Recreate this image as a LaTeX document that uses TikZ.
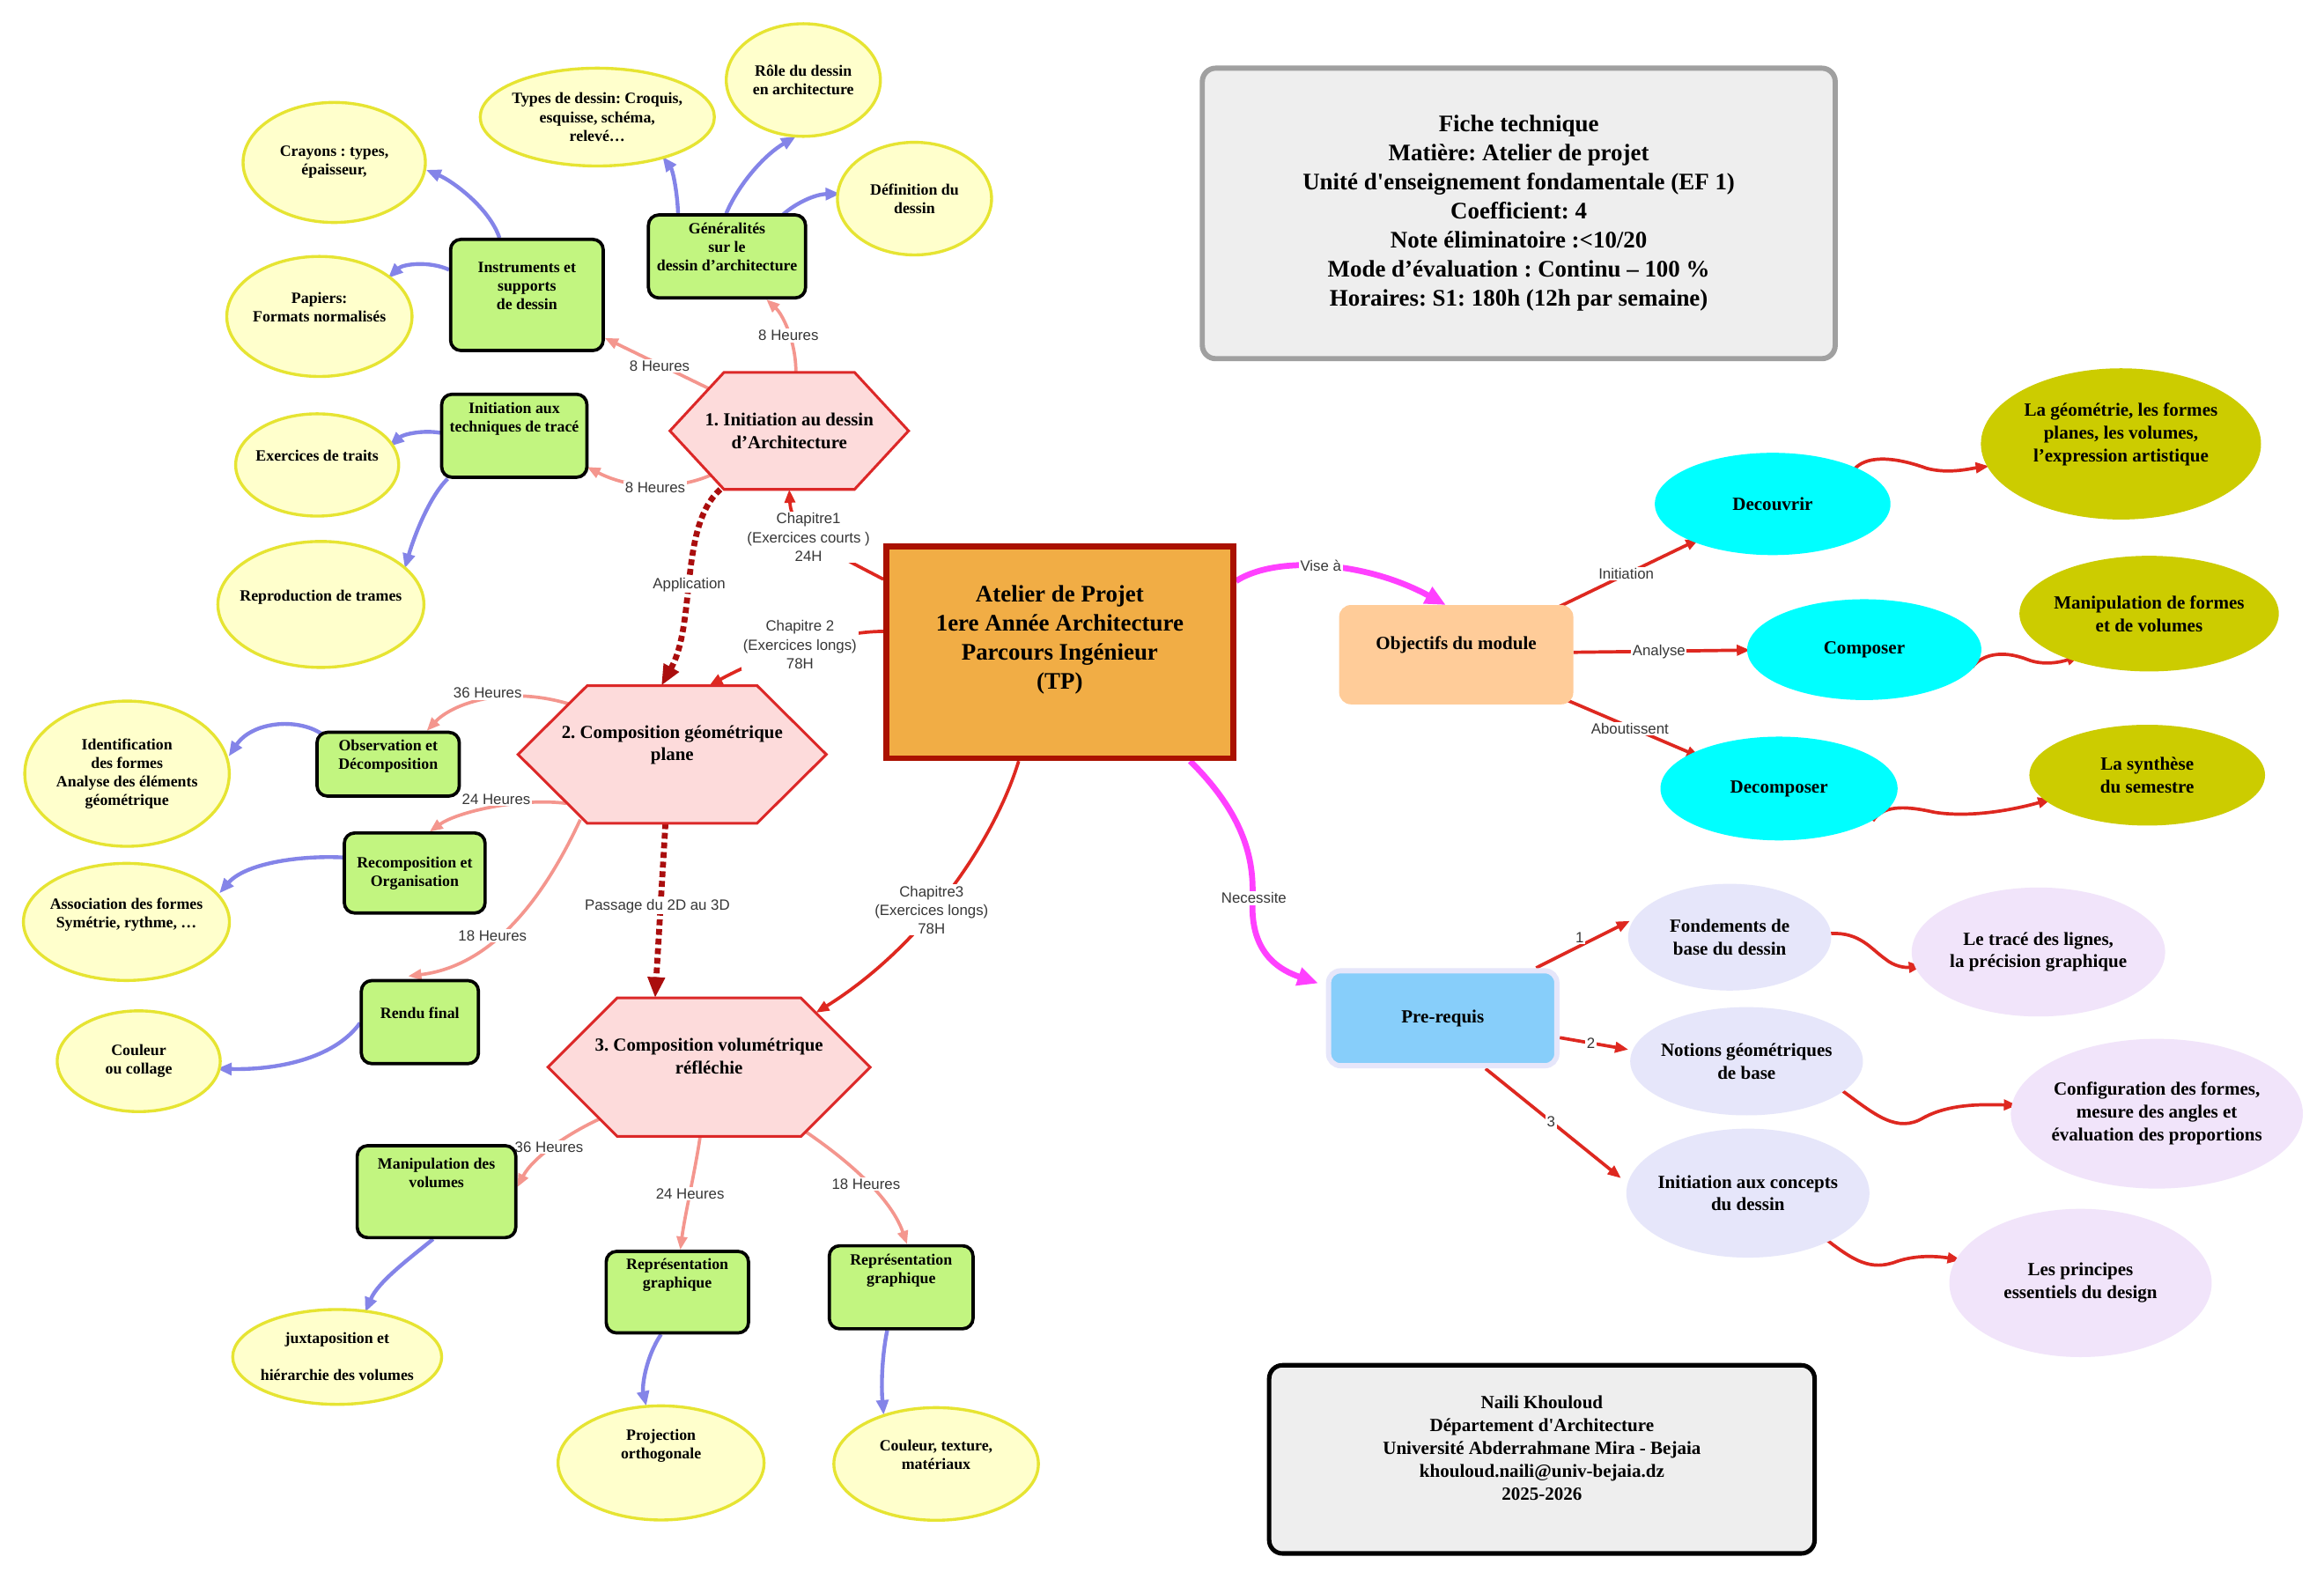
\documentclass[tikz,border=0pt]{standalone}
\usepackage{fontspec}
\setmainfont{Liberation Serif}
\newfontfamily\lsans{Liberation Sans}
\usetikzlibrary{arrows.meta,calc,shapes.geometric}
\pgfdeclarelayer{background}
\pgfsetlayers{background,main}
\frenchspacing
\definecolor{yelF}{RGB}{255,255,204}
\definecolor{yelB}{RGB}{230,228,50}
\definecolor{grnF}{RGB}{194,245,128}
\definecolor{hexF}{RGB}{253,219,219}
\definecolor{hexB}{RGB}{220,40,40}
\definecolor{ctrF}{RGB}{241,173,69}
\definecolor{ctrB}{RGB}{170,17,0}
\definecolor{objF}{RGB}{255,204,153}
\definecolor{cyanF}{RGB}{0,255,255}
\definecolor{oliveF}{RGB}{204,204,0}
\definecolor{preF}{RGB}{135,206,250}
\definecolor{preB}{RGB}{230,230,250}
\definecolor{lavF}{RGB}{230,230,250}
\definecolor{plavF}{RGB}{241,228,250}
\definecolor{ficheF}{RGB}{238,238,238}
\definecolor{ficheB}{RGB}{160,160,160}
\definecolor{pinkE}{RGB}{244,150,142}
\definecolor{blueE}{RGB}{132,132,232}
\definecolor{redE}{RGB}{222,40,32}
\definecolor{dredE}{RGB}{170,14,14}
\definecolor{magE}{RGB}{255,64,255}
\definecolor{lblC}{RGB}{55,55,55}
\newcommand\N[7]{\node[#1,minimum width=#4pt,minimum height=#5pt,label={[#6]center:{#7}}] (#2) at (#3) {};}
\newcommand\hexa[5]{\draw[hexst] (#1-#3,#2) -- (#1-#5,#2-#4) -- (#1+#5,#2-#4) -- (#1+#3,#2) -- (#1+#5,#2+#4) -- (#1-#5,#2+#4) -- cycle;}
\tikzset{
 every node/.style={inner sep=0pt, outer sep=0pt},
 yel/.style={ellipse, draw=yelB, fill=yelF, line width=2pt},
 grn/.style={rectangle, rounded corners=7pt, draw=black, fill=grnF, line width=2.2pt},
 hexbox/.style={rectangle},
 hexst/.style={draw=hexB, fill=hexF, line width=1.8pt},
 ctrbox/.style={rectangle, draw=ctrB, fill=ctrF, line width=4pt},
 objbox/.style={rectangle, rounded corners=8pt, fill=objF},
 cyanel/.style={ellipse, fill=cyanF},
 oliveel/.style={ellipse, fill=oliveF},
 prebox/.style={rectangle, rounded corners=8pt, draw=preB, fill=preF, line width=3.5pt},
 lavel/.style={ellipse, fill=lavF},
 plavel/.style={ellipse, fill=plavF},
 fichebox/.style={rectangle, rounded corners=9pt, draw=ficheB, fill=ficheF, line width=3.5pt},
 authbox/.style={rectangle, rounded corners=9pt, draw=black, fill=ficheF, line width=3pt},
 stxt/.style={font=\fontsize{10.6}{12.5}\selectfont\bfseries, align=center},
 htxt/.style={font=\fontsize{12.4}{15.2}\selectfont\bfseries, align=center},
 rtxt/.style={font=\fontsize{12.5}{15.4}\selectfont\bfseries, align=center},
 btxt/.style={font=\fontsize{16}{19.6}\selectfont\bfseries, align=center},
 lbl/.style={font=\lsans\fontsize{10}{12.6}\selectfont, text=lblC, fill=white, inner sep=1pt, align=center},
 pk/.style={draw=pinkE, line width=2.2pt, -{Triangle[length=9pt,width=7pt]}},
 bl/.style={draw=blueE, line width=2.6pt, -{Triangle[length=10pt,width=8pt]}},
 rd/.style={draw=redE, line width=2.2pt, -{Triangle[length=9pt,width=7pt]}},
 mg/.style={draw=magE, line width=4pt, -{Triangle[length=14pt,width=12pt]}},
 dsh/.style={draw=dredE, line width=4pt, dash pattern=on 4pt off 2.5pt, -{Triangle[length=14pt,width=11pt]}},
}
\begin{document}
\begin{tikzpicture}[x=1pt,y=-1pt]
\useasboundingbox (0,0) rectangle (1568,1065);
% ---------- yellow ellipses
\N{yel}{crayons}{225.5,109.6}{123}{81}{stxt}{Crayons : types,\\épaisseur,}
\N{yel}{types}{403,79}{158}{66}{stxt}{Types de dessin: Croquis,\\esquisse, schéma,\\relevé…}
\N{yel}{role}{542,54}{104}{76}{stxt}{Rôle du dessin\\en architecture}
\N{yel}{defin}{617,134}{104}{76}{stxt}{Définition du\\dessin}
\N{yel}{papiers}{215.5,213.5}{125}{81}{stxt}{Papiers:\\Formats normalisés\\\mbox{}}
\N{yel}{traits}{214,313.7}{110}{69}{stxt}{Exercices de traits\\\mbox{}}
\N{yel}{trames}{216.5,407.8}{139}{85}{stxt}{Reproduction de trames\\\mbox{}}
\N{yel}{ident}{85.7,522}{138}{98}{stxt}{Identification\\des formes\\Analyse des éléments\\géométrique}
\N{yel}{assoc}{85.3,622}{139}{79}{stxt}{Association des formes\\Symétrie, rythme, …\\\mbox{}}
\N{yel}{couleur}{93.6,716}{110}{68}{stxt}{Couleur\\ou collage}
\N{yel}{juxta}{227.5,915.5}{141}{64}{stxt}{juxtaposition et\\\mbox{}\\hiérarchie des volumes}
\N{yel}{proj}{446,987}{139}{77}{stxt}{Projection\\orthogonale\\\mbox{}\\\mbox{}}
\N{yel}{coultex}{631.6,987.7}{138}{76}{stxt}{Couleur, texture,\\matériaux\\\mbox{}}
% ---------- green boxes
\N{grn}{instr}{355.5,199}{103}{75}{stxt}{Instruments et\\supports\\de dessin\\\mbox{}}
\N{grn}{gener}{490.5,173}{106}{56}{stxt}{Généralités\\sur le\\dessin d’architecture\\\mbox{}}
\N{grn}{inittech}{347,294}{98}{56}{stxt}{Initiation aux\\techniques de tracé\\\mbox{}\\\mbox{}}
\N{grn}{obs}{261.9,515.6}{96}{43}{stxt}{Observation et\\Décomposition\\\mbox{}}
\N{grn}{recomp}{279.8,589}{95}{54}{stxt}{Recomposition et\\Organisation}
\N{grn}{rendu}{283.3,689.6}{79}{56}{stxt}{Rendu final\\\mbox{}}
\N{grn}{manip}{294.5,804}{107}{62}{stxt}{Manipulation des\\volumes\\\mbox{}\\\mbox{}}
\N{grn}{rep1}{457,871.8}{96}{55}{stxt}{Représentation\\graphique\\\mbox{}\\\mbox{}}
\N{grn}{rep2}{608,868.5}{97}{56}{stxt}{Représentation\\graphique\\\mbox{}\\\mbox{}}
% ---------- hexagons
\hexa{532.5}{290.7}{80.5}{39.5}{44}
\N{hexbox}{h1}{532.5,290.7}{161}{79}{htxt}{1. Initiation au dessin\\d’Architecture}
\hexa{453.5}{509}{104}{46.4}{57.3}
\N{hexbox}{h2}{453.5,509}{208}{93}{htxt}{2. Composition géométrique\\plane\\\mbox{}}
\hexa{478.4}{720}{108.7}{46.7}{62}
\N{hexbox}{h3}{478.4,720}{217}{93}{htxt}{3. Composition volumétrique\\réfléchie\\\mbox{}}
% ---------- central and boxes
\N{ctrbox}{ctr}{715,440}{234}{143}{btxt}{Atelier de Projet\\1ere Année Architecture\\Parcours Ingénieur\\(TP)\\\mbox{}}
\N{fichebox}{fiche}{1024.7,144}{427}{196}{btxt}{Fiche technique\\Matière: Atelier de projet\\Unité d\textquotesingle enseignement fondamentale (EF 1)\\Coefficient: 4\\Note éliminatoire :<10/20\\Mode d’évaluation : Continu – 100 \%\\Horaires: S1: 180h (12h par semaine)}
\N{authbox}{auth}{1040.3,984.6}{368}{127}{rtxt}{Naili Khouloud\\Département d\textquotesingle Architecture\\Université Abderrahmane Mira - Bejaia\\khouloud.naili@univ-bejaia.dz\\2025-2026\\\mbox{}}
% ---------- right part
\N{objbox}{obj}{982.5,441.7}{158}{67}{rtxt}{Objectifs du module\\\mbox{}}
\N{cyanel}{decouv}{1196,340}{159}{69}{rtxt}{Decouvrir}
\N{cyanel}{compo}{1257.8,438.3}{158}{68}{rtxt}{Composer}
\N{cyanel}{decomp}{1200.3,532}{160}{70}{rtxt}{Decomposer}
\N{oliveel}{geom}{1431,299.5}{189}{102}{rtxt}{La géométrie, les formes\\planes, les volumes,\\l’expression artistique\\\mbox{}}
\N{oliveel}{manipf}{1450,414}{175}{78}{rtxt}{Manipulation de formes\\et de volumes}
\N{oliveel}{synth}{1448.7,523}{159}{68}{rtxt}{La synthèse\\du semestre}
\N{prebox}{prereq}{973.4,687}{154}{64}{rtxt}{Pre-requis}
\N{lavel}{fond}{1167,632.3}{137}{72}{rtxt}{Fondements de\\base du dessin}
\N{lavel}{notions}{1178.4,716}{157}{73}{rtxt}{Notions géométriques\\de base}
\N{lavel}{initc}{1179.3,805}{164}{87}{rtxt}{Initiation aux concepts\\du dessin}
\N{plavel}{trace}{1375.3,642.3}{171}{87}{rtxt}{Le tracé des lignes,\\la précision graphique}
\N{plavel}{config}{1455.2,751.4}{197}{101}{rtxt}{Configuration des formes,\\mesure des angles et\\évaluation des proportions}
\N{plavel}{princ}{1403.7,865.6}{177}{100}{rtxt}{Les principes\\essentiels du design}
% ---------- connectors
\begin{pgfonlayer}{background}
\fill[white] (0,0) rectangle (1568,1065);
% pink
\draw[pk] ($(h1)+(-54.5,-28.7)$) -- ($(instr)+(52.5,29)$);
\draw[pk] ($(h1)+(4.5,-39.5)$) .. controls (537,230) and (528,212) .. ($(gener)+(26.5,29)$);
\draw[pk] ($(h1)+(-53,29.9)$) .. controls (455,331) and (425,330) .. ($(inittech)+(49,21)$);
\draw[pk] ($(h2)+(-70,-34.2)$) .. controls (340,462) and (305,475) .. ($(obs)+(26,-22.5)$);
\draw[pk] ($(h2)+(-71.5,33)$) .. controls (350,538) and (308,548) .. ($(recomp)+(10,-27.8)$);
\draw[pk] ($(h2)+(-62,44)$) .. controls (365,610) and (330,652) .. ($(rendu)+(-8,-31)$);
\draw[pk] ($(h3)+(-74,35)$) .. controls (385,764) and (360,780) .. ($(manip)+(54.5,-3)$);
\draw[pk] ($(h3)+(-6,46.7)$) .. controls (469,790) and (462,820) .. ($(rep1)+(2,-28.5)$);
\draw[pk] ($(h3)+(63.5,42.4)$) .. controls (565,778) and (600,805) .. ($(rep2)+(4,-29)$);
% blue
\draw[bl] ($(instr)+(-18.5,-38.5)$) .. controls (330,140) and (305,122) .. ($(crayons)+(62,5)$);
\draw[bl] ($(instr)+(-52.5,-17)$) .. controls (290,176) and (272,178) .. ($(papiers)+(46.4,-25.9)$);
\draw[bl] ($(gener)+(-33,-29)$) .. controls (457,130) and (454,115) .. ($(types)+(44,26.7)$);
\draw[bl] ($(gener)+(-0.5,-29)$) .. controls (498,125) and (515,105) .. ($(role)+(-5,38)$);
\draw[bl] ($(gener)+(38,-28.4)$) .. controls (537,137) and (550,131) .. ($(defin)+(-50,-3.2)$);
\draw[bl] ($(inittech)+(-50,-2)$) .. controls (285,290) and (272,293) .. ($(traits)+(48.7,-12.4)$);
\draw[bl] ($(inittech)+(-45,29)$) .. controls (290,335) and (280,360) .. ($(trames)+(56.6,-24.3)$);
\draw[bl] ($(obs)+(-45,-20.6)$) .. controls (200,484) and (170,487) .. ($(ident)+(68.6,-11.7)$);
\draw[bl] ($(recomp)+(-48.4,-10.5)$) .. controls (200,577) and (165,583) .. ($(assoc)+(62.7,-19.3)$);
\draw[bl] ($(rendu)+(-40.4,0.6)$) .. controls (225,715) and (185,722) .. ($(couleur)+(52.7,5)$);
\draw[bl] ($(manip)+(-2.3,32)$) .. controls (275,850) and (255,865) .. ($(juxta)+(18.9,-30.2)$);
\draw[bl] ($(rep1)+(-11,28.5)$) .. controls (436,915) and (433,935) .. ($(proj)+(-10,-38.4)$);
\draw[bl] ($(rep2)+(-9.4,29)$) .. controls (595,915) and (594.5,935) .. ($(coultex)+(-35.4,-33.1)$);
% dashed
\draw[dsh] ($(h1)+(-46.5,39.5)$) .. controls (458,355) and (470,420) .. ($(h2)+(-7.3,-46.4)$);
\draw[dsh] ($(h2)+(-4.5,46.4)$) -- ($(h3)+(-36.4,-46.7)$);
% red from centre
\draw[rd] ($(ctr)+(-119,-49.2)$) .. controls (560,372) and (534,360) .. ($(h1)+(0,39.5)$);
\draw[rd] ($(ctr)+(-119,-14)$) .. controls (560,426) and (510,445) .. ($(h2)+(25,-46.4)$);
\draw[rd] ($(ctr)+(-27.7,73.5)$) .. controls (670,570) and (620,640) .. ($(h3)+(72,-36.7)$);
% magenta
\draw[mg] ($(ctr)+(119,-48)$) .. controls (860,375) and (920,378) .. ($(obj)+(-7,-33.5)$);
\draw[mg] ($(ctr)+(88,73.5)$) .. controls (850,560) and (845,595) .. (845,612) .. controls (845,645) and (865,655) .. ($(prereq)+(-84,-23.6)$);
% objectives
\draw[rd] ($(obj)+(69,-32.2)$) -- ($(decouv)+(-49.6,23.7)$);
\draw[rd] ($(obj)+(79,-1.6)$) -- ($(compo)+(-77,0.3)$);
\draw[rd] ($(obj)+(75,30.8)$) -- ($(decomp)+(-53.4,-21.3)$);
\draw[rd] ($(decouv)+(54.7,-23)$) .. controls (1258,308) and (1275,307) .. (1300,316) .. controls (1315,320) and (1330,316) .. ($(geom)+(-89,15)$);
\draw[rd] ($(compo)+(72.8,11.9)$) .. controls (1337,442) and (1350,438) .. (1368,445) .. controls (1378,449) and (1390,447) .. ($(manipf)+(-46.8,28.2)$);
\draw[rd] ($(decomp)+(63.3,21.8)$) .. controls (1270,544) and (1283,543) .. (1305,548) .. controls (1330,552) and (1360,546) .. ($(synth)+(-64.7,16.1)$);
% pre-requis
\draw[rd] ($(prereq)+(63,-34)$) -- ($(fond)+(-67.3,-11)$);
\draw[rd] ($(prereq)+(79,13.1)$) -- ($(notions)+(-79.7,-7.9)$);
\draw[rd] ($(prereq)+(28.9,34)$) -- ($(initc)+(-85.6,-10.1)$);
\draw[rd] ($(fond)+(68.4,-2.5)$) .. controls (1255,629) and (1262,640) .. (1272,647) .. controls (1278,652) and (1285,653) .. ($(trace)+(-78.4,9.5)$);
\draw[rd] ($(notions)+(65,20.2)$) .. controls (1265,752) and (1280,765) .. (1298,754) .. controls (1315,745) and (1335,745) .. ($(config)+(-94.2,-5.7)$);
\draw[rd] ($(initc)+(53.4,31.7)$) .. controls (1250,850) and (1262,858) .. (1280,851) .. controls (1295,846) and (1310,848) .. ($(princ)+(-80.7,-15.5)$);
% ---------- edge labels
\node[lbl] (la1) at (445,247) {8 Heures};
\node[lbl] (la2) at (532,226.3) {8 Heures};
\node[lbl] (la3) at (442,329) {8 Heures};
\node[lbl] (la4) at (329,467.6) {36 Heures};
\node[lbl] (la5) at (334.8,539.2) {24 Heures};
\node[lbl] (la6) at (332.3,631.5) {18 Heures};
\node[lbl] (la7) at (370.5,773.8) {36 Heures};
\node[lbl] (la8) at (465.6,805.5) {24 Heures};
\node[lbl] (la9) at (584.3,798.9) {18 Heures};
\node[lbl] (lapp) at (465,394.5) {Application};
\node[lbl] (lpas) at (443.5,611.3) {Passage du 2D au 3D};
\node[lbl] (lc1) at (545.5,362.5) {Chapitre1\\(Exercices courts )\\24H};
\node[lbl] (lc2) at (539.7,435) {Chapitre 2\\(Exercices longs)\\78H};
\node[lbl] (lc3) at (628.5,614) {Chapitre3\\(Exercices longs)\\78H};
\node[lbl] (lvis) at (891.1,381.9) {Vise à};
\node[lbl] (lnec) at (846,606) {Necessite};
\node[lbl] (lini) at (1097.2,387.1) {Initiation};
\node[lbl] (lana) at (1119.3,440) {Analyse};
\node[lbl] (labo) at (1099.7,491.6) {Aboutissent};
\node[lbl] (lq1) at (1065.8,632.4) {1};
\node[lbl] (lq2) at (1073.4,704) {2};
\node[lbl] (lq3) at (1046.5,756.9) {3};
\end{pgfonlayer}
\end{tikzpicture}
\end{document}
